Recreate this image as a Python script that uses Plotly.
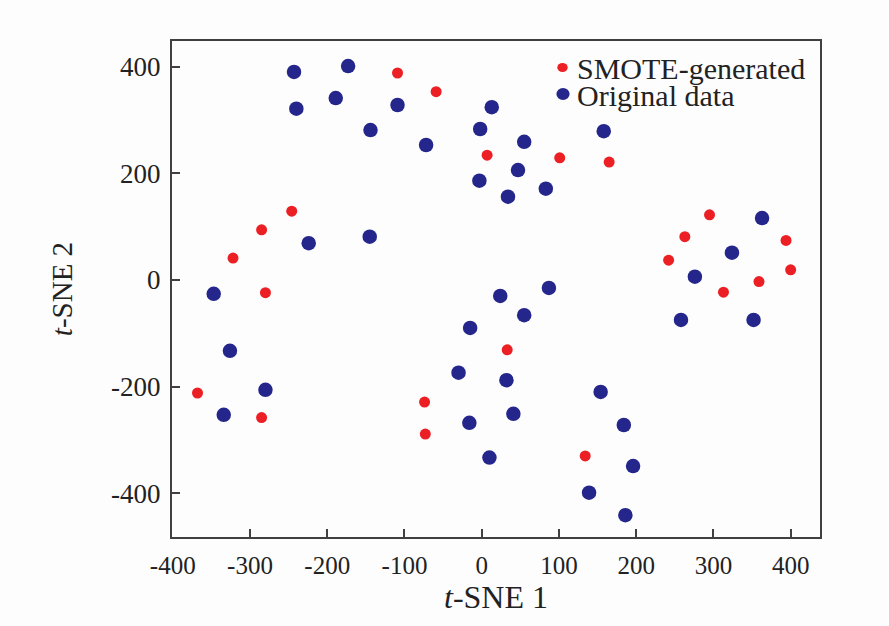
import plotly.graph_objects as go

# Original data points (t-SNE 1, t-SNE 2)
orig_x = [-243, -173, -240, -189, -109, -144, -72, 13, -2, 55, 158, -3, 47, 34, 83,
          -224, -145, -347, -326, -280, -334, 24, 87, -15, 55, -30, 32, -16, 41, 10,
          154, 184, 196, 139, 186, 363, 324, 276, 258, 352]
orig_y = [390, 401, 321, 341, 328, 281, 253, 324, 283, 259, 279, 186, 206, 156, 171,
          69, 81, -26, -133, -206, -253, -30, -15, -90, -66, -174, -188, -268, -251, -333,
          -210, -272, -349, -399, -441, 116, 51, 6, -75, -75]

# SMOTE-generated points
smote_x = [-109, -59, 7, 101, 165, -246, -285, -322, -280, -368, -285, -74, -73, 33,
           134, 295, 263, 242, 313, 359, 394, 400]
smote_y = [388, 353, 234, 229, 221, 129, 94, 41, -24, -212, -258, -229, -289, -131,
           -330, 122, 81, 37, -23, -3, 74, 19]

series_names = ["SMOTE-generated", "Original data"]
x_ticks = [-400, -300, -200, -100, 0, 100, 200, 300, 400]
y_ticks = [-400, -200, 0, 200, 400]

RED = "rgb(236,32,36)"
BLUE = "rgb(36,38,140)"
FONT = "Liberation Serif"
AXCOL = "#404040"
TXT = "#222222"

W, H = 889, 626
ML, MR, MT, MB = 172, 69, 41, 89
PW, PH = W - ML - MR, H - MT - MB

fig = go.Figure()
fig.add_trace(go.Scatter(x=smote_x, y=smote_y, mode="markers", name=series_names[0],
                         marker=dict(color=RED, size=11, line=dict(width=0))))
fig.add_trace(go.Scatter(x=orig_x, y=orig_y, mode="markers", name=series_names[1],
                         marker=dict(color=BLUE, size=14.5, line=dict(width=0))))

axis_common = dict(showgrid=False, zeroline=False, showline=True, linecolor=AXCOL,
                   linewidth=2, mirror=True, ticks="inside", ticklen=8, tickwidth=2,
                   tickcolor=AXCOL, automargin=False)


def px_x(p):
    return (p - ML) / PW


def px_y(p):
    return (H - MB - p) / PH


# Legend drawn as text + symbols in paper space (inside the plot frame)
legend_rows = [
    (series_names[0], RED, 562.5, 67.5, 5.2, 4.6),
    (series_names[1], BLUE, 563.0, 94.0, 6.6, 6.0),
]
shapes = []
annotations = []
for name, col, cx, cy, rx, ry in legend_rows:
    shapes.append(dict(type="circle", xref="paper", yref="paper",
                       x0=px_x(cx - rx), x1=px_x(cx + rx), y0=px_y(cy + ry), y1=px_y(cy - ry),
                       fillcolor=col, line=dict(width=0)))
    annotations.append(dict(text=name, xref="paper", yref="paper", x=px_x(575), y=px_y(cy + 1),
                            xanchor="left", yanchor="middle", showarrow=False,
                            font=dict(family=FONT, size=30, color=TXT)))

fig.update_layout(
    width=W, height=H,
    margin=dict(l=ML, r=MR, t=MT, b=MB),
    paper_bgcolor="#fdfdfd", plot_bgcolor="#fdfdfd",
    font=dict(family=FONT, color=TXT),
    showlegend=False,
    shapes=shapes,
    annotations=annotations,
    xaxis=dict(range=[-401, 438], tickvals=x_ticks, ticktext=[str(v) for v in x_ticks],
               tickfont=dict(family=FONT, size=25, color=TXT),
               ticklabelstandoff=5,
               title=dict(text="<i>t</i>-SNE 1", font=dict(family=FONT, size=32, color=TXT),
                          standoff=5),
               **axis_common),
    yaxis=dict(range=[-482, 448], tickvals=y_ticks, ticktext=[str(v) for v in y_ticks],
               tickfont=dict(family=FONT, size=27, color=TXT),
               ticklabelstandoff=4,
               title=dict(text="<i>t</i>-SNE 2", font=dict(family=FONT, size=29, color=TXT),
                          standoff=30),
               **axis_common),
)

fig.write_html("out.html", config={"displayModeBar": False},
               post_script="document.body.style.margin='0';document.body.style.overflow='hidden';")
